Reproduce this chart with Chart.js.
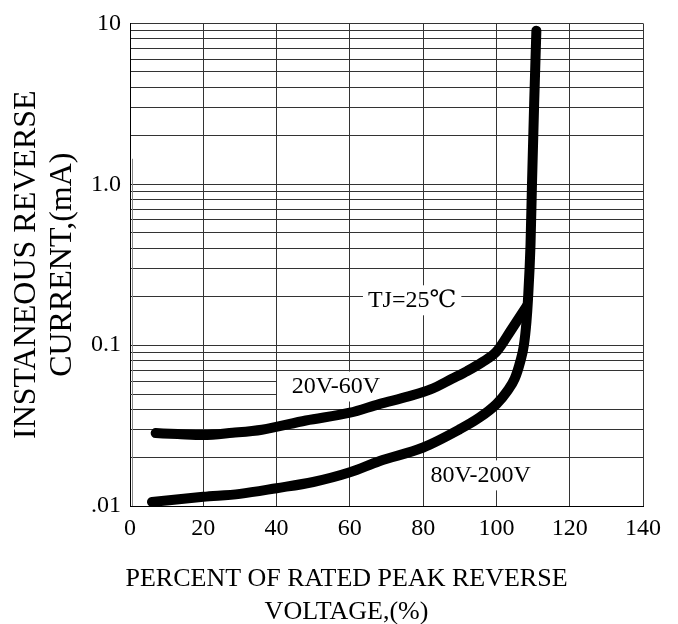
<!DOCTYPE html>
<html>
<head>
<meta charset="utf-8">
<script src="https://cdn.jsdelivr.net/npm/chart.js@4.4.1/dist/chart.umd.min.js"></script>
<style>
  html, body { margin: 0; padding: 0; background: #fff; }
  #wrap { width: 678px; height: 624px; position: relative; }
</style>
</head>
<body>
<div id="wrap"><canvas id="chart"></canvas></div>
<script>
// ---------- Data ----------
const upperX = [7, 13, 20, 28, 36, 48, 60, 68, 76, 82, 88, 92, 96, 100, 104, 108.3];
const upperY = [0.0284, 0.028, 0.0276, 0.0285, 0.0298, 0.034, 0.038, 0.043, 0.048, 0.053, 0.062, 0.069, 0.078, 0.091, 0.124, 0.175];

const lowerX = [6, 20, 30, 40, 50, 60, 68, 80, 90, 95, 100, 103, 105, 106.5, 107.5, 108.2, 108.6, 109.3, 109.7, 110.3, 110.9];
const lowerY = [0.0106, 0.0114, 0.0119, 0.0129, 0.0141, 0.0162, 0.019, 0.0231, 0.030, 0.035, 0.043, 0.052, 0.062, 0.079, 0.1, 0.14, 0.19, 0.42, 1.0, 3.2, 9.0];

// y grid: 1..9 in each decade, labels only on the decades
const yDecades = [0.01, 0.1, 1];
const yMantissa = [1, 2, 3, 4, 5, 6, 7, 8, 9];
const yLabelValues = [0.01, 0.1, 1, 10];
const yLabelText = ['.01', '0.1', '1.0', '10'];

// two grid lines in the original only run from 0 to 40 %
const shortGridY = [0.05, 0.06];
const shortGridToX = 40;
// the scan has a doubled left edge below ~1.4 mA
const doubledEdgeFromY = 1.44;

// curve notes
const noteText = ['TJ=25\u2103', '20V-60V', '80V-200V'];
const noteX = [77, 56.2, 95.7];
const noteY = [0.19, 0.0553, 0.0155];

const yTitle = ['INSTANEOUS REVERSE', 'CURRENT,(mA)'];
const xTitle = ['PERCENT OF RATED PEAK REVERSE', 'VOLTAGE,(%)'];

// ---------- Helpers ----------
const SERIF = '"Liberation Serif", "DejaVu Serif", "Times New Roman", serif';
const GRID = '#333';

const yGrid = [];
yDecades.forEach(d => yMantissa.forEach(m => yGrid.push(+(d * m).toPrecision(3))));
yGrid.push(10);

const toPoints = (xs, ys) => xs.map((x, i) => ({x, y: ys[i]}));

const notesPlugin = {
  id: 'notes',
  beforeDatasetsDraw(chart) {
    const {ctx, chartArea, scales: {x, y}} = chart;
    ctx.save();
    ctx.strokeStyle = GRID;
    ctx.lineWidth = 1;
    shortGridY.forEach(v => {
      const py = Math.round(y.getPixelForValue(v)) + 0.5;
      ctx.beginPath();
      ctx.moveTo(chartArea.left, py);
      ctx.lineTo(x.getPixelForValue(shortGridToX), py);
      ctx.stroke();
    });
    ctx.strokeStyle = '#888';
    ctx.beginPath();
    ctx.moveTo(chartArea.left + 2.5, y.getPixelForValue(doubledEdgeFromY));
    ctx.lineTo(chartArea.left + 2.5, chartArea.bottom);
    ctx.stroke();

    ctx.font = '24px ' + SERIF;
    ctx.textAlign = 'center';
    ctx.textBaseline = 'middle';
    noteText.forEach((t, i) => {
      const px = x.getPixelForValue(noteX[i]);
      const py = y.getPixelForValue(noteY[i]);
      const w = ctx.measureText(t).width;
      ctx.fillStyle = '#fff';
      ctx.fillRect(px - w / 2 - 5, py - 15, w + 10, 30);
      ctx.fillStyle = '#000';
      ctx.fillText(t, px, py);
    });
    ctx.restore();
  }
};

const curve = (data) => ({
  data,
  borderColor: '#000',
  borderWidth: 10,
  borderCapStyle: 'round',
  borderJoinStyle: 'round',
  pointRadius: 0,
  cubicInterpolationMode: 'monotone',
  fill: false
});

new Chart(document.getElementById('chart'), {
  type: 'line',
  data: {
    datasets: [
      curve(toPoints(upperX, upperY)),
      curve(toPoints(lowerX, lowerY))
    ]
  },
  options: {
    responsive: true,
    maintainAspectRatio: false,
    animation: false,
    layout: {padding: {left: 15, right: 0, top: 19, bottom: 0}},
    plugins: {
      legend: {display: false},
      tooltip: {enabled: false},
      title: {
        display: true,
        position: 'bottom',
        text: xTitle,
        color: '#000',
        font: {family: SERIF, size: 26, weight: 'normal', lineHeight: 1.25},
        padding: {top: 0, bottom: -4}
      }
    },
    scales: {
      x: {
        type: 'linear',
        min: 0,
        max: 140,
        afterFit: (s) => { s.height = 57; },
        grid: {color: GRID, lineWidth: 1, drawTicks: false},
        border: {color: '#000', width: 1},
        ticks: {
          stepSize: 20,
          padding: 8,
          color: '#000',
          font: {family: SERIF, size: 24}
        }
      },
      y: {
        type: 'logarithmic',
        min: 0.01,
        max: 10,
        afterFit: (s) => { s.width = 115; },
        afterBuildTicks: (s) => { s.ticks = yGrid.map(v => ({value: v})); },
        grid: {
          drawTicks: false,
          lineWidth: 1,
          color: (c) => shortGridY.includes(c.tick && c.tick.value) ? 'rgba(0,0,0,0)' : GRID
        },
        border: {color: '#000', width: 1},
        ticks: {
          autoSkip: false,
          padding: 9,
          color: '#000',
          font: {family: SERIF, size: 24},
          callback: (v) => {
            const i = yLabelValues.findIndex(l => Math.abs(l - v) < l * 1e-6);
            return i >= 0 ? yLabelText[i] : '';
          }
        },
        title: {
          display: true,
          text: yTitle,
          color: '#000',
          font: {family: SERIF, size: 32, weight: 'normal', lineHeight: 1.14},
          padding: {top: -7, bottom: 0}
        }
      },
      // empty right-hand strip so the bottom title centres like the original
      gutter: {
        type: 'linear',
        position: 'right',
        afterFit: (s) => { s.width = 35; },
        grid: {display: false},
        border: {display: false},
        ticks: {display: false}
      }
    }
  },
  plugins: [notesPlugin]
});
</script>
</body>
</html>
